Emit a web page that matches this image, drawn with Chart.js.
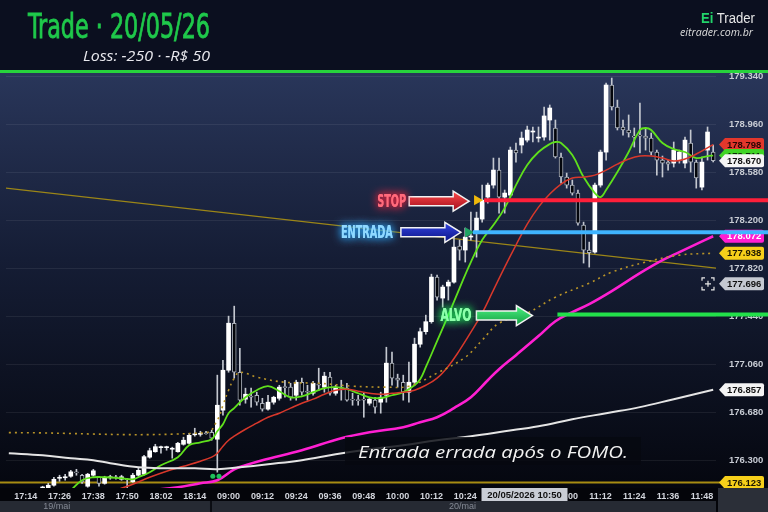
<!DOCTYPE html>
<html>
<head>
<meta charset="utf-8">
<script src="https://cdn.jsdelivr.net/npm/chart.js@4.4.1/dist/chart.umd.min.js"></script>
<style>
  html, body { margin: 0; padding: 0; background: #0b0f1f; }
  #wrap { position: relative; width: 768px; height: 512px; overflow: hidden; }
  #chart { position: absolute; left: 0; top: 0; }
  .t { position: absolute; white-space: nowrap; line-height: 1; transform-origin: 0 0; }
  .title { left: 28px; top: 10px; color: #1fc94b; font-family: "DejaVu Sans Condensed", "DejaVu Sans", sans-serif; font-size: 33px; -webkit-text-stroke: 0.8px #1fc94b; }
  .sub { left: 83px; top: 49px; color: #e9e9ee; font-family: "Open Sans", sans-serif; font-style: italic; font-size: 14px; }
  .brand { left: 701px; top: 11px; color: #e6e6e6; font-family: "Liberation Sans", Arial, sans-serif; font-size: 14px; }
  .brand .ei { color: #22d36a; font-weight: bold; }
  .site { left: 680px; top: 26px; color: #dedede; font-family: "Open Sans", sans-serif; font-style: italic; font-size: 11px; }
  .note { position: absolute; left: 345px; top: 437px; width: 296px; height: 28px; background: rgba(6, 8, 16, 0.82); }
  .note span { left: 13px; top: 6px; color: #f2f2f2; font-family: "Open Sans", sans-serif; font-style: italic; font-size: 17px; }
</style>
</head>
<body>
<div id="wrap">
  <canvas id="chart" width="768" height="512"></canvas>
  <div class="t title" id="title">Trade · 20/05/26</div>
  <div class="t sub" id="sub">Loss: -250 · -R$ 50</div>
  <div class="t brand" id="brand"><span class="ei">Ei</span> Trader</div>
  <div class="t site" id="site">eitrader.com.br</div>
  <div class="note"><span class="t" id="note">Entrada errada após o FOMO.</span></div>
</div>
<script>
// 2-minute bars, 19/mai afternoon then 20/mai morning
const times = ("17:08 17:10 17:12 17:14 17:16 17:18 17:20 17:22 17:24 17:26 17:28 17:30 17:32 17:34 17:36 17:38 " +
  "17:40 17:42 17:44 17:46 17:48 17:50 17:52 17:54 17:56 17:58 18:00 18:02 18:04 18:06 18:08 18:10 18:12 18:14 " +
  "18:16 18:18 18:20 18:22 18:24 " +
  "09:00 09:02 09:04 09:06 09:08 09:10 09:12 09:14 09:16 09:18 09:20 09:22 09:24 09:26 09:28 09:30 09:32 09:34 " +
  "09:36 09:38 09:40 09:42 09:44 09:46 09:48 09:50 09:52 09:54 09:56 09:58 10:00 10:02 10:04 10:06 10:08 10:10 " +
  "10:12 10:14 10:16 10:18 10:20 10:22 10:24 10:26 10:28 10:30 10:32 10:34 10:36 10:38 10:40 10:42 10:44 10:46 " +
  "10:48 10:50 10:52 10:54 10:56 10:58 11:00 11:02 11:04 11:06 11:08 11:10 11:12 11:14 11:16 11:18 11:20 11:22 " +
  "11:24 11:26 11:28 11:30 11:32 11:34 11:36 11:38 11:40 11:42 11:44 11:46 11:48 11:50 11:52").split(" ");

const open = [null, null, null, null, null, null,
  176.078, 176.070, 176.102, 176.157, 176.161, 176.173, 176.204, 176.181, 176.094, 176.181,
  176.165, 176.117, 176.161, 176.165, 176.149, 176.149, 176.129, 176.181, 176.189, 176.324,
  176.367, 176.399, 176.399, 176.387, 176.367, 176.426, 176.434, 176.501, 176.505, 176.513,
  176.521, 176.466, 176.696, 177.012, 177.384, 176.996, 176.783, 176.806, 176.814, 176.751,
  176.704, 176.759, 176.790, 176.878, 176.878, 176.814, 176.917, 176.846, 176.830, 176.901,
  176.878, 176.957, 176.830, 176.878, 176.870, 176.783, 176.775, 176.783, 176.751, 176.775,
  176.759, 176.814, 177.068, 176.949, 176.917, 176.838, 176.917, 177.218, 177.317, 177.396,
  177.749, 177.583, 177.678, 177.709, 177.994, 177.963, 178.066, 178.097, 178.208, 178.382,
  178.477, 178.596, 178.382, 178.398, 178.754, 178.794, 178.833, 178.897, 178.849, 178.857,
  178.992, 178.929, 178.699, 178.541, 178.477, 178.414, 178.160, 177.963, 177.947, 178.477,
  178.738, 179.269, 179.095, 178.936, 178.913, 178.865, 178.873, 178.865, 178.849, 178.738,
  178.675, 178.659, 178.651, 178.675, 178.651, 178.810, 178.659, 178.461, 178.754, 178.738];
const high = [null, null, null, null, null, null,
  176.094, 176.117, 176.165, 176.181, 176.189, 176.220, 176.228, 176.189, 176.196, 176.228,
  176.173, 176.173, 176.181, 176.181, 176.181, 176.157, 176.196, 176.236, 176.339, 176.395,
  176.426, 176.411, 176.411, 176.403, 176.442, 176.482, 176.513, 176.553, 176.529, 176.529,
  176.537, 176.973, 177.091, 177.440, 177.519, 177.186, 176.870, 176.870, 176.838, 176.790,
  176.814, 176.806, 176.893, 176.933, 176.909, 176.933, 176.949, 176.893, 176.925, 177.028,
  176.996, 176.996, 176.893, 176.933, 176.909, 176.830, 176.814, 176.830, 176.790, 176.798,
  176.838, 177.194, 177.155, 176.981, 176.973, 177.076, 177.266, 177.345, 177.448, 177.772,
  177.765, 177.685, 177.725, 178.097, 178.042, 178.137, 178.263, 178.263, 178.477, 178.493,
  178.691, 178.691, 178.438, 178.778, 178.810, 178.897, 178.944, 178.937, 178.937, 179.095,
  179.111, 178.992, 178.731, 178.572, 178.517, 178.438, 178.184, 178.026, 178.493, 178.754,
  179.285, 179.324, 179.150, 178.992, 179.032, 178.929, 179.127, 178.929, 178.889, 178.754,
  178.707, 178.675, 178.818, 178.754, 178.857, 178.913, 178.675, 178.699, 178.937, 178.794];
const low = [null, null, null, null, null, null,
  176.070, 176.062, 176.094, 176.133, 176.141, 176.165, 176.181, 176.117, 176.086, 176.173,
  176.094, 176.110, 176.149, 176.149, 176.141, 176.078, 176.125, 176.173, 176.181, 176.316,
  176.363, 176.355, 176.379, 176.316, 176.363, 176.419, 176.426, 176.490, 176.490, 176.505,
  176.458, 176.205, 176.656, 176.996, 176.949, 176.735, 176.751, 176.719, 176.735, 176.688,
  176.696, 176.743, 176.775, 176.798, 176.775, 176.775, 176.814, 176.775, 176.814, 176.854,
  176.838, 176.814, 176.814, 176.775, 176.767, 176.735, 176.735, 176.640, 176.735, 176.672,
  176.672, 176.759, 176.893, 176.878, 176.775, 176.759, 176.893, 177.194, 177.297, 177.384,
  177.567, 177.511, 177.567, 177.701, 177.883, 177.868, 178.042, 177.907, 178.184, 178.334,
  178.453, 178.255, 178.255, 178.382, 178.659, 178.731, 178.818, 178.818, 178.818, 178.833,
  178.833, 178.691, 178.493, 178.453, 178.398, 178.160, 177.860, 177.828, 177.939, 178.461,
  178.675, 179.071, 178.913, 178.873, 178.857, 178.778, 178.731, 178.754, 178.715, 178.556,
  178.541, 178.596, 178.620, 178.651, 178.612, 178.580, 178.453, 178.438, 178.675, 178.660];
const close = [null, null, null, null, null, null,
  176.082, 176.102, 176.149, 176.161, 176.165, 176.208, 176.200, 176.129, 176.189, 176.216,
  176.117, 176.165, 176.165, 176.161, 176.169, 176.145, 176.181, 176.220, 176.328, 176.375,
  176.407, 176.403, 176.403, 176.391, 176.434, 176.458, 176.497, 176.505, 176.509, 176.509,
  176.474, 176.735, 177.012, 177.384, 176.996, 176.775, 176.822, 176.798, 176.759, 176.704,
  176.759, 176.798, 176.878, 176.874, 176.798, 176.917, 176.838, 176.838, 176.909, 176.893,
  176.965, 176.830, 176.878, 176.870, 176.775, 176.775, 176.771, 176.775, 176.783, 176.720,
  176.798, 177.068, 176.949, 176.933, 176.838, 176.917, 177.218, 177.317, 177.396, 177.749,
  177.591, 177.670, 177.709, 177.986, 177.963, 178.066, 178.074, 178.216, 178.358, 178.477,
  178.596, 178.382, 178.414, 178.754, 178.731, 178.849, 178.913, 178.901, 178.857, 179.024,
  179.087, 178.699, 178.541, 178.477, 178.414, 178.176, 177.963, 177.943, 178.477, 178.738,
  179.269, 179.095, 178.929, 178.913, 178.889, 178.857, 178.865, 178.849, 178.738, 178.675,
  178.651, 178.643, 178.754, 178.738, 178.833, 178.659, 178.533, 178.659, 178.897, 178.670];

// moving averages: [bar index, price]
const emaFast = [[11, 176.062], [13, 176.141], [15, 176.165], [17, 176.165], [20, 176.157], [22, 176.149],
  [23, 176.165], [25, 176.205], [27, 176.260], [30, 176.324], [32, 176.419], [34, 176.442], [36, 176.466],
  [37, 176.529], [38, 176.585], [39, 176.672], [40, 176.712], [42, 176.798], [44, 176.854], [46, 176.886],
  [48, 176.846], [50, 176.798], [52, 176.806], [54, 176.838], [56, 176.870], [58, 176.878], [60, 176.862],
  [62, 176.830], [64, 176.798], [66, 176.791], [68, 176.814], [70, 176.838], [72, 176.893], [73, 176.941],
  [74, 177.036], [76, 177.242], [78, 177.448], [80, 177.662], [82, 177.868], [84, 178.042], [86, 178.161],
  [88, 178.295], [90, 178.477], [92, 178.636], [94, 178.739], [96, 178.802], [97, 178.818], [98, 178.810],
  [100, 178.715], [102, 178.541], [104, 178.414], [105, 178.382], [106, 178.438], [108, 178.580],
  [110, 178.739], [112, 178.913], [113, 178.929], [114, 178.913], [116, 178.810], [118, 178.762],
  [120, 178.739], [122, 178.691], [124, 178.707], [125, 178.711]];
const emaMid = [[19, 176.062], [22, 176.110], [25, 176.165], [28, 176.213], [31, 176.252], [34, 176.292],
  [36, 176.324], [37, 176.355], [38, 176.411], [39, 176.458], [40, 176.490], [42, 176.545], [44, 176.593],
  [46, 176.640], [48, 176.672], [50, 176.712], [52, 176.751], [54, 176.783], [56, 176.822], [58, 176.854],
  [60, 176.862], [62, 176.846], [64, 176.830], [66, 176.822], [68, 176.830], [70, 176.838], [72, 176.854],
  [74, 176.893], [76, 176.949], [78, 177.044], [80, 177.171], [82, 177.313], [84, 177.464], [86, 177.646],
  [88, 177.828], [90, 178.002], [92, 178.168], [94, 178.303], [96, 178.406], [98, 178.485], [100, 178.533],
  [102, 178.541], [104, 178.556], [106, 178.596], [108, 178.643], [110, 178.683], [112, 178.707],
  [114, 178.707], [116, 178.691], [118, 178.667], [120, 178.683], [122, 178.723], [125, 178.798]];
const emaSlow = [[25, 176.062], [30, 176.086], [34, 176.117], [37, 176.141], [40, 176.228], [42, 176.260],
  [45, 176.300], [52, 176.379], [59, 176.474], [64, 176.521], [70, 176.561], [73, 176.601], [76, 176.640],
  [79, 176.712], [82, 176.799], [85, 176.933], [87, 177.020], [90, 177.131], [94, 177.282], [97, 177.400],
  [100, 177.472], [103, 177.535], [107, 177.638], [112, 177.780], [116, 177.883], [119, 177.947],
  [122, 178.010], [125, 178.072]];
const maLong = [[0, 176.355], [6, 176.339], [11, 176.316], [15, 176.300], [18, 176.276], [23, 176.244],
  [28, 176.236], [33, 176.236], [37, 176.228], [41, 176.244], [46, 176.268], [52, 176.300], [58, 176.347],
  [64, 176.387], [70, 176.419], [76, 176.458], [82, 176.490], [88, 176.529], [94, 176.569], [100, 176.624],
  [106, 176.672], [112, 176.720], [118, 176.783], [125, 176.857]];
const vwap = [[0, 176.518], [35, 176.518], [37, 176.616], [38, 176.735], [39, 176.854], [40, 176.949],
  [41, 176.996], [44, 176.957], [49, 176.917], [55, 176.909], [61, 176.886], [67, 176.878], [71, 176.886],
  [76, 176.989], [81, 177.115], [84, 177.250], [87, 177.384], [92, 177.464], [97, 177.590], [103, 177.701],
  [107, 177.788], [113, 177.867], [119, 177.923], [125, 177.938]];
const trendLine = [[-1, 178.456], [126, 177.818]];
const signalDots = [[36.2, 176.173], [37.3, 176.173]];
const stopMark = [[83.1, 178.358]];
const entryMark = [[81.5, 178.103]];

// levels and axis
const stopLevel = 178.358, entryLevel = 178.103, targetLevel = 177.452, supportLevel = 176.123;
const stopFrom = 84, entryFrom = 82, targetFrom = 97;
const crossPrice = 177.696, crossIndex = 94, crossText = "20/05/2026 10:50";
const yTicks = [176.300, 176.680, 177.060, 177.440, 177.820, 178.200, 178.580, 178.960, 179.340];
const xTicks = [3, 9, 15, 21, 27, 33, 39, 45, 51, 57, 63, 69, 75, 81, 87, 93, 99, 105, 111, 117, 123];
const days = [["19/mai", 8.5], ["20/mai", 80.5]];
const yMin = 176.080, yMax = 179.372;

const bars = [];
for (let i = 0; i < times.length; i++) if (open[i] !== null) bars.push(i);
const pts = arr => arr.map(p => ({ x: p[0], y: p[1] }));
const last = arr => arr[arr.length - 1][1];

function lineSet(data, color, width, extra) {
  return Object.assign({ type: 'line', data: pts(data), borderColor: color, borderWidth: width,
    pointRadius: 0, tension: 0.4, order: 0 }, extra || {});
}

function tag(ctx, x, y, text, bg, fg) {
  const h = 13, w = 45, tip = 6, r = 2;
  ctx.beginPath();
  ctx.moveTo(x, y);
  ctx.lineTo(x + tip, y - h / 2);
  ctx.lineTo(x + w - r, y - h / 2);
  ctx.quadraticCurveTo(x + w, y - h / 2, x + w, y - h / 2 + r);
  ctx.lineTo(x + w, y + h / 2 - r);
  ctx.quadraticCurveTo(x + w, y + h / 2, x + w - r, y + h / 2);
  ctx.lineTo(x + tip, y + h / 2);
  ctx.closePath();
  ctx.fillStyle = bg;
  ctx.fill();
  ctx.fillStyle = fg;
  ctx.font = 'bold 9.5px "Liberation Sans", Arial, sans-serif';
  ctx.textAlign = 'left';
  ctx.textBaseline = 'middle';
  ctx.fillText(text, x + tip + 2, y + 0.5);
}

function arrow(ctx, tipX, y, len, top, bottom) {
  const head = 16, body = 4.5, wing = 10, tail = tipX - len;
  ctx.beginPath();
  ctx.moveTo(tail, y - body);
  ctx.lineTo(tipX - head, y - body);
  ctx.lineTo(tipX - head, y - wing);
  ctx.lineTo(tipX, y);
  ctx.lineTo(tipX - head, y + wing);
  ctx.lineTo(tipX - head, y + body);
  ctx.lineTo(tail, y + body);
  ctx.closePath();
  const g = ctx.createLinearGradient(0, y - wing, 0, y + wing);
  g.addColorStop(0, top);
  g.addColorStop(1, bottom);
  ctx.fillStyle = g;
  ctx.fill();
  ctx.lineWidth = 1.5;
  ctx.strokeStyle = '#f2f2f2';
  ctx.stroke();
}

function neon(ctx, text, rightX, y, fill, glow, targetW) {
  ctx.save();
  ctx.font = 'bold 18px "DejaVu Sans Condensed", "DejaVu Sans", sans-serif';
  const w = ctx.measureText(text).width;
  ctx.translate(rightX - targetW, y);
  ctx.scale(targetW / w, 1);
  ctx.textAlign = 'left';
  ctx.textBaseline = 'middle';
  ctx.shadowColor = glow;
  ctx.shadowBlur = 9;
  ctx.fillStyle = fill;
  ctx.fillText(text, 0, 1);
  ctx.fillText(text, 0, 1);
  ctx.restore();
}

const backdrop = {
  id: 'backdrop',
  beforeDraw(chart) {
    const { ctx, chartArea: a, width, height } = chart;
    ctx.save();
    ctx.fillStyle = '#0b0f1f';
    ctx.fillRect(0, 0, width, a.top);
    const g = ctx.createLinearGradient(0, a.top, 0, a.bottom);
    g.addColorStop(0, '#29365a');
    g.addColorStop(0.45, '#151d35');
    g.addColorStop(1, '#05070f');
    ctx.fillStyle = g;
    ctx.fillRect(0, a.top, width, a.bottom - a.top);
    ctx.fillStyle = '#04050a';
    ctx.fillRect(0, a.bottom, width, height - a.bottom);
    ctx.restore();
  },
  beforeDatasetsDraw(chart) {
    const { ctx, chartArea: a, scales: { y } } = chart;
    const yy = y.getPixelForValue(supportLevel);
    ctx.save();
    ctx.strokeStyle = '#a88c12';
    ctx.lineWidth = 2;
    ctx.beginPath();
    ctx.moveTo(0, yy);
    ctx.lineTo(a.right + 4, yy);
    ctx.stroke();
    ctx.restore();
  }
};

const overlay = {
  id: 'overlay',
  afterDraw(chart) {
    const { ctx, chartArea: a, width, height, scales: { x, y } } = chart;
    ctx.save();
    const tx = a.right + 3;
    // right side price tags
    tag(ctx, tx, y.getPixelForValue(last(emaMid)), last(emaMid).toFixed(3), '#e2372c', '#2a0503');
    tag(ctx, tx, y.getPixelForValue(last(emaFast)), last(emaFast).toFixed(3), '#3fd425', '#0a2a05');
    tag(ctx, tx, y.getPixelForValue(close[close.length - 1]), close[close.length - 1].toFixed(3), '#f4f4f4', '#111');
    tag(ctx, tx, y.getPixelForValue(last(emaSlow)), last(emaSlow).toFixed(3), '#ff1fd2', '#ffffff');
    tag(ctx, tx, y.getPixelForValue(last(vwap)), last(vwap).toFixed(3), '#f6cf1a', '#1c1600');
    tag(ctx, tx, y.getPixelForValue(crossPrice), crossPrice.toFixed(3), '#c5c9d1', '#111');
    tag(ctx, tx, y.getPixelForValue(last(maLong)), last(maLong).toFixed(3), '#f4f4f4', '#111');
    tag(ctx, tx, y.getPixelForValue(supportLevel), supportLevel.toFixed(3), '#f6cf1a', '#1c1600');

    // crosshair icon
    const cy = y.getPixelForValue(crossPrice), cx = a.right - 8;
    ctx.strokeStyle = '#e8e8e8';
    ctx.lineWidth = 1.2;
    ctx.beginPath();
    [[-1, -1], [1, -1], [1, 1], [-1, 1]].forEach(([sx, sy]) => {
      ctx.moveTo(cx + sx * 6, cy + sy * 3);
      ctx.lineTo(cx + sx * 6, cy + sy * 6);
      ctx.lineTo(cx + sx * 3, cy + sy * 6);
    });
    ctx.moveTo(cx - 3, cy); ctx.lineTo(cx + 3, cy);
    ctx.moveTo(cx, cy - 3); ctx.lineTo(cx, cy + 3);
    ctx.stroke();

    // trade levels
    const levels = [
      [stopLevel, stopFrom, '#ff1f3a'],
      [entryLevel, entryFrom, '#3fb4ff'],
      [targetLevel, targetFrom, '#22e04a']
    ];
    levels.forEach(([v, from, c]) => {
      const yy = y.getPixelForValue(v);
      ctx.strokeStyle = c;
      ctx.lineWidth = 4;
      ctx.beginPath();
      ctx.moveTo(x.getPixelForValue(from) + 2, yy);
      ctx.lineTo(width, yy);
      ctx.stroke();
    });

    // arrows and labels
    const sy = y.getPixelForValue(stopLevel), sTip = x.getPixelForValue(stopFrom) - 13;
    arrow(ctx, sTip, sy + 1, 60, '#ff4a4a', '#a00d1c');
    neon(ctx, 'STOP', sTip - 63, sy + 1, '#ff6b7c', '#ff1f3a', 29);
    const ey = y.getPixelForValue(entryLevel), eTip = x.getPixelForValue(entryFrom) - 10;
    arrow(ctx, eTip, ey, 60, '#3446e0', '#0a1285');
    neon(ctx, 'ENTRADA', eTip - 68, ey, '#8fd8ff', '#2aa8ff', 52);
    const gy = y.getPixelForValue(targetLevel), gTip = x.getPixelForValue(targetFrom) - 23;
    arrow(ctx, gTip, gy + 1, 56, '#4df283', '#119c3f');
    neon(ctx, 'ALVO', gTip - 61, gy + 1, '#8dffab', '#1dff5c', 31);

    // bottom: crosshair time, day strip, corner
    const bx = x.getPixelForValue(crossIndex) - 14;
    ctx.fillStyle = '#c9cdd5';
    ctx.fillRect(bx - 43, a.bottom, 86, 13);
    ctx.fillStyle = '#111';
    ctx.font = 'bold 9.5px "Liberation Sans", Arial, sans-serif';
    ctx.textAlign = 'center';
    ctx.textBaseline = 'middle';
    ctx.fillText(crossText, bx, a.bottom + 7);
    ctx.fillStyle = '#262a33';
    ctx.fillRect(0, height - 11, a.right, 11);
    ctx.fillStyle = '#0b0d13';
    ctx.fillRect(x.getPixelForValue(35.7), height - 11, 2, 11);
    ctx.fillStyle = '#858a95';
    ctx.font = '9px "Liberation Sans", Arial, sans-serif';
    days.forEach(([d, i]) => ctx.fillText(d, x.getPixelForValue(i), height - 5));
    ctx.fillStyle = '#2b2f38';
    ctx.fillRect(a.right + 2, a.bottom, width - a.right - 2, height - a.bottom);

    // top border
    ctx.fillStyle = '#27d33c';
    ctx.fillRect(0, a.top - 2, width, 3);
    ctx.restore();
  }
};

const ctx = document.getElementById('chart').getContext('2d');
new Chart(ctx, {
  type: 'bar',
  data: {
    datasets: [
      lineSet(trendLine, '#9c8617', 1.2, { tension: 0, order: 3 }),
      lineSet(maLong, '#e4e4e4', 2),
      lineSet(vwap, '#b89328', 1.6, { borderDash: [2, 4] }),
      lineSet(emaSlow, '#ff1fd2', 2.6),
      lineSet(emaMid, '#d8382b', 1.5),
      lineSet(emaFast, '#5fe01c', 1.8),
      {
        type: 'bar', order: 2, grouped: false, barThickness: 1,
        data: bars.map(i => ({ x: i, y: [low[i], high[i]] })),
        backgroundColor: '#c3c7cf', minBarLength: 1
      },
      {
        type: 'bar', order: 1, grouped: false, barThickness: 4, borderSkipped: false, minBarLength: 1,
        data: bars.map(i => ({ x: i, y: [Math.min(open[i], close[i]), Math.max(open[i], close[i])] })),
        backgroundColor: bars.map(i => close[i] >= open[i] ? '#ffffff' : '#03050b'),
        borderColor: bars.map(i => close[i] >= open[i] ? '#ffffff' : '#aab0ba'),
        borderWidth: bars.map(i => close[i] >= open[i] ? 0 : 1)
      },
      lineSet(signalDots, '#1fc25a', 0, { showLine: false, pointRadius: 2.5, pointBackgroundColor: '#1fc25a', order: -1 }),
      lineSet(stopMark, '#f0b90b', 0, { showLine: false, pointStyle: 'triangle', rotation: 90, pointRadius: 6,
        pointBackgroundColor: '#f0b90b', pointBorderWidth: 0, order: -1 }),
      lineSet(entryMark, '#1fa463', 0, { showLine: false, pointStyle: 'triangle', rotation: 90, pointRadius: 6,
        pointBackgroundColor: '#1fa463', pointBorderWidth: 0, order: -1 })
    ]
  },
  options: {
    responsive: false,
    animation: false,
    devicePixelRatio: 1,
    layout: { padding: { top: 72, left: 2, right: 0, bottom: 0 } },
    plugins: { legend: { display: false }, tooltip: { enabled: false } },
    scales: {
      x: {
        type: 'linear', min: -0.5, max: 125.5, offset: false,
        afterBuildTicks: s => { s.ticks = xTicks.map(v => ({ value: v })); },
        afterFit: s => { s.height = 24; },
        grid: { display: false, drawTicks: false, offset: false },
        border: { display: false },
        ticks: {
          color: '#d3d6dd', padding: 3, maxRotation: 0, autoSkip: false,
          font: { family: '"Liberation Sans", Arial, sans-serif', size: 9, weight: 'bold' },
          callback: v => times[v]
        }
      },
      y: {
        position: 'right', min: yMin, max: yMax,
        afterBuildTicks: s => { s.ticks = yTicks.map(v => ({ value: v })); },
        afterFit: s => { s.width = 52; },
        grid: { color: 'rgba(255,255,255,0.07)', drawTicks: false },
        border: { display: false },
        ticks: {
          color: '#c8ccd4', padding: 13,
          font: { family: '"Liberation Sans", Arial, sans-serif', size: 9.5, weight: 'bold' },
          callback: v => v.toFixed(3)
        }
      }
    }
  },
  plugins: [backdrop, overlay]
});

// squeeze header texts to the reference widths
function fit(id, w) {
  const el = document.getElementById(id);
  el.style.transform = 'scaleX(' + (w / el.getBoundingClientRect().width) + ')';
}
fit('title', 182);
fit('sub', 127);
fit('brand', 54);
fit('site', 73);
fit('note', 270);
</script>
</body>
</html>
